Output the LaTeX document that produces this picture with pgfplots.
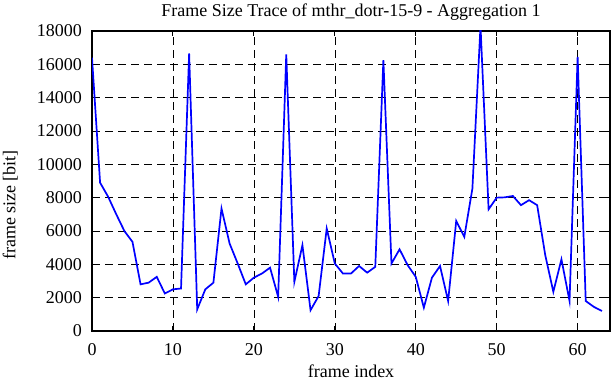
\documentclass[border=0pt]{standalone}
\usepackage{fontspec}
\setmainfont{Liberation Serif}
\usepackage{pgfplots}
\pgfplotsset{compat=1.18}
\begin{document}
\fontsize{18}{21}\selectfont
\begin{tikzpicture}
\useasboundingbox (0,0) rectangle (612pt,382pt);
\begin{axis}[
  at={(92pt,51pt)}, anchor=south west,
  scale only axis, width=518pt, height=300pt,
  xmin=0, xmax=64, ymin=0, ymax=18000,
  xtick={0,10,...,60}, ytick={0,2000,...,18000},
  xticklabels={0,10,20,30,40,50,60},
  yticklabels={0,2000,4000,6000,8000,10000,12000,14000,16000,18000},
  scaled y ticks=false, scaled x ticks=false,
  grid=major,
  major grid style={black, line width=0.6pt, dash pattern=on 8pt off 5pt},
  tick align=inside, major tick length=5pt,
  tick style={black, line width=0.9pt},
  axis line style={line width=1.3pt},
  font=\fontsize{18}{21}\selectfont\rmfamily,
  xticklabel style={font=\fontsize{18}{21}\selectfont\rmfamily, anchor=base, yshift=-24pt},
  yticklabel style={font=\fontsize{18}{21}\selectfont\rmfamily, anchor=east, xshift=-4pt},
  title={Frame Size Trace of mthr\_dotr-15-9 - Aggregation 1},
  title style={at={(axis description cs:0.5,1)}, anchor=base, yshift=8pt},
  xlabel={frame index}, ylabel={frame size [bit]},
  xlabel style={at={(axis description cs:0.5,0)}, anchor=base, yshift=-46pt},
  ylabel style={at={(axis description cs:-0.148,0.42)}, anchor=base},
  clip=true,
]
\addplot[color={rgb,255:red,0;green,0;blue,255}, line width=1.7pt] coordinates {
(0,16400) (1,8900) (2,8050) (3,7000) (4,6000) (5,5350) (6,2800) (7,2900)
(8,3250) (9,2250) (10,2500) (11,2550) (12,16650) (13,1300) (14,2500) (15,2900)
(16,7350) (17,5250) (18,4050) (19,2800) (20,3200) (21,3450) (22,3800) (23,2050)
(24,16600) (25,2950) (26,5150) (27,1250) (28,2100) (29,6150) (30,4050) (31,3450)
(32,3450) (33,3900) (34,3500) (35,3850) (36,16250) (37,4050) (38,4900) (39,3950)
(40,3250) (41,1400) (42,3200) (43,3900) (44,1800) (45,6600) (46,5650) (47,8550)
(48,18300) (49,7300) (50,8000) (51,8020) (52,8100) (53,7550) (54,7850) (55,7550)
(56,4550) (57,2350) (58,4300) (59,1800) (60,16450) (61,1800) (62,1450) (63,1200)
};
\end{axis}
\end{tikzpicture}
\end{document}
